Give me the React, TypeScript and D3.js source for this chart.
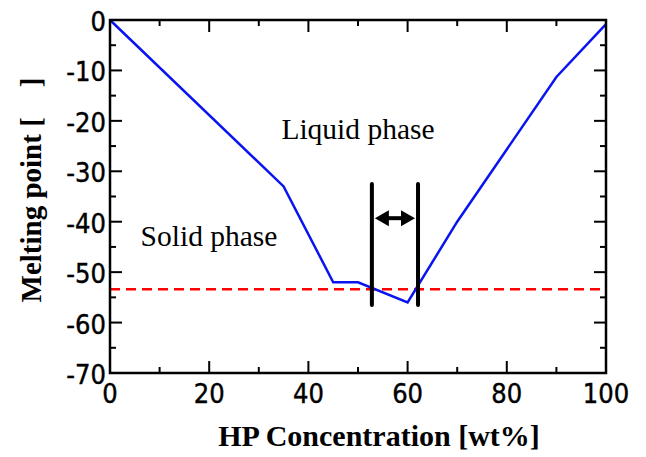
import * as d3 from "d3";

// melting point curve (HP concentration wt% -> melting point)
const concentration = [0, 35, 45, 50, 60, 70, 90, 100];
const meltingPoint = [0, -33, -52, -52, -56, -40, -11.3, -0.8];

const eutecticTemp = -53.4;
const rangeX = [52.8, 62.1];
const rangeY = [-32.5, -56.5];
const arrowY = -39.3;

const xMajor = [0, 20, 40, 60, 80, 100];
const xMinor = [10, 30, 50, 70, 90];
const yMajor = [0, -10, -20, -30, -40, -50, -60, -70];
const yMinor = [-5, -15, -25, -35, -45, -55, -65];

const W = 646;
const H = 457;
const marginLeft = 110;
const marginRight = 40;
const marginTop = 20;
const marginBottom = 84;

const tickFont = "'DejaVu Sans Condensed', 'DejaVu Sans', sans-serif";
const serif = "'Liberation Serif', 'Times New Roman', serif";

export default function App() {
  const x = d3.scaleLinear([0, 100], [marginLeft, W - marginRight]);
  const y = d3.scaleLinear([-70, 0], [H - marginBottom, marginTop]);
  const [x0, x1] = x.range();
  const [y0, y1] = y.range();

  const line = d3
    .line<number>()
    .x((_, i) => x(concentration[i]))
    .y((d) => y(d));

  const major = 12;
  const minor = 6;

  const ax = x(rangeX[0]) + 3;
  const bx = x(rangeX[1]) - 3;
  const ay = y(arrowY);
  const head = 14;

  return (
    <svg
      width={W}
      height={H}
      style={{ position: "absolute", left: 0, top: 0 }}
    >
      <rect width={W} height={H} fill="white" />

      {/* red dashed eutectic line */}
      <line
        x1={x0}
        x2={x1}
        y1={y(eutecticTemp)}
        y2={y(eutecticTemp)}
        stroke="#ff0000"
        strokeWidth={2.5}
        strokeDasharray="10 6"
      />

      {/* melting curve */}
      <path
        d={line(meltingPoint) ?? ""}
        fill="none"
        stroke="#0a14f0"
        strokeWidth={2.5}
      />

      {/* range markers */}
      {rangeX.map((v) => (
        <line
          key={v}
          x1={x(v)}
          x2={x(v)}
          y1={y(rangeY[0])}
          y2={y(rangeY[1])}
          stroke="black"
          strokeWidth={4}
          strokeLinecap="round"
        />
      ))}
      <line
        x1={ax + head - 2}
        x2={bx - head + 2}
        y1={ay}
        y2={ay}
        stroke="black"
        strokeWidth={4}
      />
      <path
        d={`M${ax},${ay}L${ax + head},${ay - 8}L${ax + head},${ay + 8}Z`}
        fill="black"
      />
      <path
        d={`M${bx},${ay}L${bx - head},${ay - 8}L${bx - head},${ay + 8}Z`}
        fill="black"
      />

      {/* frame */}
      <rect
        x={x0}
        y={y1}
        width={x1 - x0}
        height={y0 - y1}
        fill="none"
        stroke="black"
        strokeWidth={2.5}
      />

      {/* ticks */}
      <g stroke="black" strokeWidth={2}>
        {xMajor.map((v) => (
          <g key={"xM" + v}>
            <line x1={x(v)} x2={x(v)} y1={y0} y2={y0 - major} />
            <line x1={x(v)} x2={x(v)} y1={y1} y2={y1 + major} />
          </g>
        ))}
        {xMinor.map((v) => (
          <g key={"xm" + v}>
            <line x1={x(v)} x2={x(v)} y1={y0} y2={y0 - minor} />
            <line x1={x(v)} x2={x(v)} y1={y1} y2={y1 + minor} />
          </g>
        ))}
        {yMajor.map((v) => (
          <g key={"yM" + v}>
            <line x1={x0} x2={x0 + major} y1={y(v)} y2={y(v)} />
            <line x1={x1} x2={x1 - major} y1={y(v)} y2={y(v)} />
          </g>
        ))}
        {yMinor.map((v) => (
          <g key={"ym" + v}>
            <line x1={x0} x2={x0 + minor} y1={y(v)} y2={y(v)} />
            <line x1={x1} x2={x1 - minor} y1={y(v)} y2={y(v)} />
          </g>
        ))}
      </g>

      {/* tick labels */}
      <g
        fontFamily={tickFont}
        fontSize={27}
        fill="black"
        stroke="black"
        strokeWidth={0.4}
      >
        {xMajor.map((v) => (
          <text key={"xl" + v} x={x(v)} y={y0 + 30} textAnchor="middle">
            {v}
          </text>
        ))}
        {yMajor.map((v) => (
          <text key={"yl" + v} x={x0 - 4} y={y(v) + 11} textAnchor="end">
            {v}
          </text>
        ))}
      </g>

      {/* annotations */}
      <g fontFamily={serif} fontSize={29.5} fill="black">
        <text x={358} y={139} textAnchor="middle">
          Liquid phase
        </text>
        <text x={209} y={246} textAnchor="middle">
          Solid phase
        </text>
      </g>

      {/* axis titles */}
      <text
        x={379}
        y={446}
        textAnchor="middle"
        fontFamily={serif}
        fontWeight="bold"
        fontSize={30}
      >
        HP Concentration [wt%]
      </text>
      <text
        transform={`translate(41,190) rotate(-90)`}
        textAnchor="middle"
        fontFamily={serif}
        fontWeight="bold"
        fontSize={29}
      >
        Melting point [<tspan dx={30}>]</tspan>
      </text>
    </svg>
  );
}
